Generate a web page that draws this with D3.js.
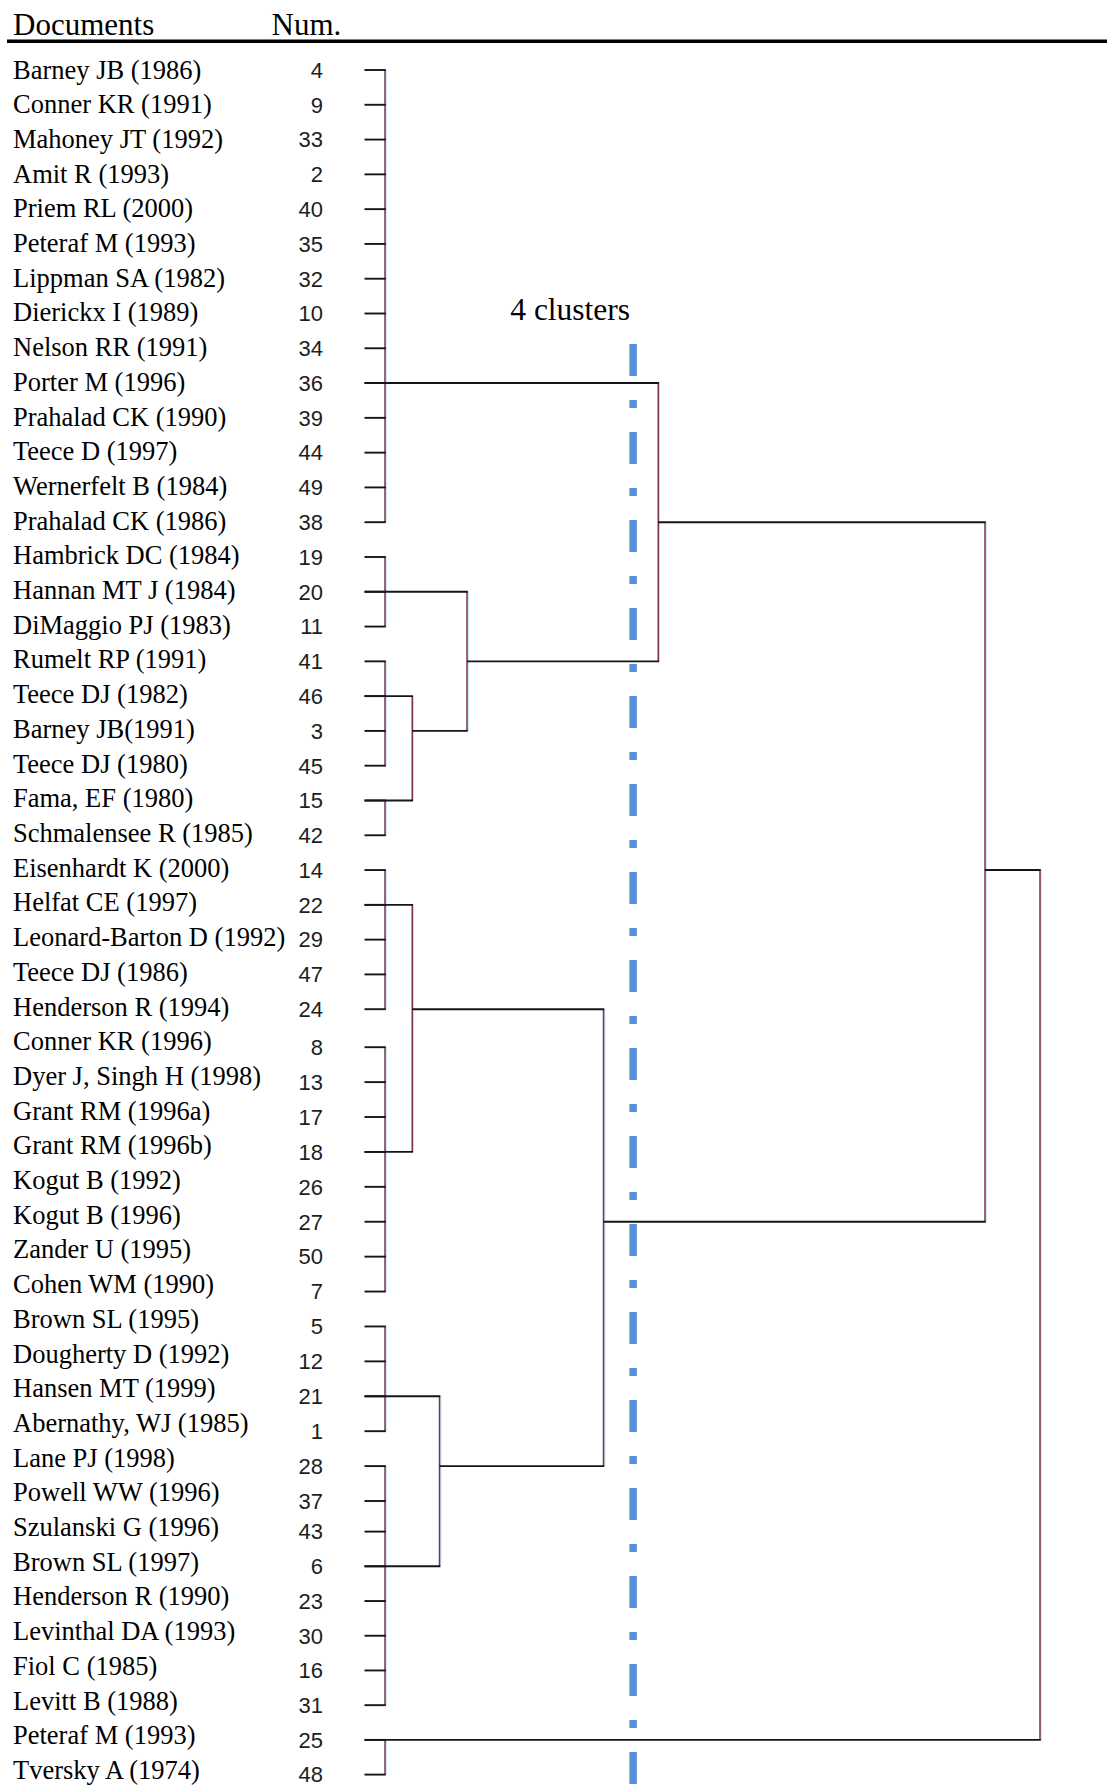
<!DOCTYPE html>
<html>
<head>
<meta charset="utf-8">
<script src="https://cdn.jsdelivr.net/npm/d3@7"></script>
<style>
  html, body { margin: 0; padding: 0; background: #fff; }
  svg { display: block; }
</style>
</head>
<body>
<script>
// ---------------- data ----------------
const documents = [
  "Barney JB (1986)", "Conner KR (1991)", "Mahoney JT (1992)", "Amit R (1993)",
  "Priem RL (2000)", "Peteraf M (1993)", "Lippman SA (1982)", "Dierickx I (1989)",
  "Nelson RR (1991)", "Porter M (1996)", "Prahalad CK (1990)", "Teece D (1997)",
  "Wernerfelt B (1984)", "Prahalad CK (1986)", "Hambrick DC (1984)", "Hannan MT J (1984)",
  "DiMaggio PJ (1983)", "Rumelt RP (1991)", "Teece DJ (1982)", "Barney JB(1991)",
  "Teece DJ (1980)", "Fama, EF (1980)", "Schmalensee R (1985)", "Eisenhardt K (2000)",
  "Helfat CE (1997)", "Leonard-Barton D (1992)", "Teece DJ (1986)", "Henderson R (1994)",
  "Conner KR (1996)", "Dyer J, Singh H (1998)", "Grant RM (1996a)", "Grant RM (1996b)",
  "Kogut B (1992)", "Kogut B (1996)", "Zander U (1995)", "Cohen WM (1990)",
  "Brown SL (1995)", "Dougherty D (1992)", "Hansen MT (1999)", "Abernathy, WJ (1985)",
  "Lane PJ (1998)", "Powell WW (1996)", "Szulanski G (1996)", "Brown SL (1997)",
  "Henderson R (1990)", "Levinthal DA (1993)", "Fiol C (1985)", "Levitt B (1988)",
  "Peteraf M (1993)", "Tversky A (1974)"
];
const docNums = [
  4, 9, 33, 2, 40, 35, 32, 10, 34, 36, 39, 44, 49, 38, 19, 20, 11, 41, 46, 3,
  45, 15, 42, 14, 22, 29, 47, 24, 8, 13, 17, 18, 26, 27, 50, 7, 5, 12, 21, 1,
  28, 37, 43, 6, 23, 30, 16, 31, 25, 48
];
// leaf groups joined at rescaled distance 0: [name, first row, last row, link row]
const leafGroups = [
  ["A", 0, 13, 9], ["B", 14, 16, 15], ["C", 17, 20, 18], ["D", 21, 22, 21],
  ["E", 23, 27, 24], ["F", 28, 35, 31], ["G", 36, 39, 38], ["H", 40, 47, 43],
  ["I", 48, 49, 48]
];
// merges: [name, left, right, rescaled distance (0-25)]
const merges = [
  ["m1", "C", "D", 1.04],
  ["m2", "B", "m1", 3.13],
  ["m3", "A", "m2", 10.43],
  ["m4", "E", "F", 1.04],
  ["m5", "G", "H", 2.08],
  ["m6", "m4", "m5", 8.34],
  ["m7", "m3", "m6", 22.9],
  ["m8", "m7", "I", 25]
];
const cutDistance = 9.47;
const cutLabel = "4 clusters";
const headers = ["Documents", "Num."];

// ---------------- layout ----------------
const W = 1107, H = 1785;
const svg = d3.select("body").append("svg").attr("width", W).attr("height", H);
svg.append("rect").attr("width", W).attr("height", H).attr("fill", "#fff");

const x = d3.scaleLinear().domain([0, 25]).range([385, 1040]);
// dendrogram rows (the pasted dendrogram image has small seams)
const yRow = d3.scaleLinear().domain([0, 27, 28, 41, 42, 49])
  .range([70, 1009.2, 1047.2, 1501, 1531.6, 1774.6]);
const yLabel = d3.scaleLinear().domain([0, documents.length - 1]).range([78.5, 1779]);

const serif = "'Liberation Serif', 'Times New Roman', Times, serif";
const sans = "'Liberation Sans', Arial, sans-serif";

// header
svg.append("text").attr("x", 13).attr("y", 35)
  .attr("font-family", serif).attr("font-size", 31).attr("fill", "#000").text(headers[0]);
svg.append("text").attr("x", 271.5).attr("y", 35)
  .attr("font-family", serif).attr("font-size", 31).attr("fill", "#000").text(headers[1]);
svg.append("line").attr("x1", 7).attr("x2", W).attr("y1", 41.3).attr("y2", 41.3)
  .attr("stroke", "#000").attr("stroke-width", 3.5);

// document labels
svg.append("g").selectAll("text").data(documents).join("text")
  .attr("x", 13).attr("y", (d, i) => yLabel(i))
  .attr("font-family", serif).attr("font-size", 26.5).attr("fill", "#000")
  .text(d => d);

// case numbers
svg.append("g").selectAll("text").data(docNums).join("text")
  .attr("x", 323).attr("y", (d, i) => yRow(i) + 7.8)
  .attr("text-anchor", "end")
  .attr("font-family", sans).attr("font-size", 22).attr("fill", "#1e1e1e")
  .text(d => d);

// ---------------- dendrogram ----------------
const nodes = {};
leafGroups.forEach(([name, a, b, link]) => { nodes[name] = { name, h: 0, a, b, link }; });
merges.forEach(([name, l, r, h]) => {
  const L = nodes[l], R = nodes[r];
  nodes[name] = { name, h, left: L, right: R, link: Math.floor((L.link + R.link) / 2) };
});

const vSegs = [], hSegs = [];
const tickStart = x(0) - 20.5;
leafGroups.forEach(([name, a, b]) => {
  vSegs.push({ x: x(0), y1: yRow(a), y2: yRow(b) });
  d3.range(a, b + 1).forEach(i => hSegs.push({ x1: tickStart, x2: x(0), y: yRow(i) }));
});
merges.forEach(([name]) => {
  const n = nodes[name];
  vSegs.push({ x: x(n.h), y1: yRow(n.left.link), y2: yRow(n.right.link) });
  [n.left, n.right].forEach(c => {
    hSegs.push({ x1: c.h === 0 ? tickStart : x(c.h), x2: x(n.h), y: yRow(c.link) });
  });
});

const dg = svg.append("g");
// vertical lines: brownish-red core with light cyan fringe
dg.append("g").selectAll("line").data(vSegs).join("line")
  .attr("x1", d => d.x + 1.2).attr("x2", d => d.x + 1.2)
  .attr("y1", d => d.y1).attr("y2", d => d.y2)
  .attr("stroke", "#b9e4ff").attr("stroke-width", 1.2);
dg.append("g").selectAll("line").data(vSegs).join("line")
  .attr("x1", d => d.x).attr("x2", d => d.x)
  .attr("y1", d => d.y1).attr("y2", d => d.y2)
  .attr("stroke", "#7e3440").attr("stroke-width", 1.5);
dg.append("g").selectAll("line").data(hSegs).join("line")
  .attr("x1", d => d.x1).attr("x2", d => d.x2 + 0.8)
  .attr("y1", d => d.y).attr("y2", d => d.y)
  .attr("stroke", "#161616").attr("stroke-width", 1.9);

// cut line (dash-dot)
const cutX = x(cutDistance);
svg.append("line")
  .attr("x1", cutX).attr("x2", cutX).attr("y1", 344).attr("y2", H)
  .attr("stroke", "#5790d6").attr("stroke-width", 7.5)
  .attr("stroke-dasharray", "32,24,8,24");
svg.append("text").attr("x", cutX - 3).attr("y", 320)
  .attr("text-anchor", "end")
  .attr("font-family", serif).attr("font-size", 31.5).attr("fill", "#000")
  .text(cutLabel);
</script>
</body>
</html>
